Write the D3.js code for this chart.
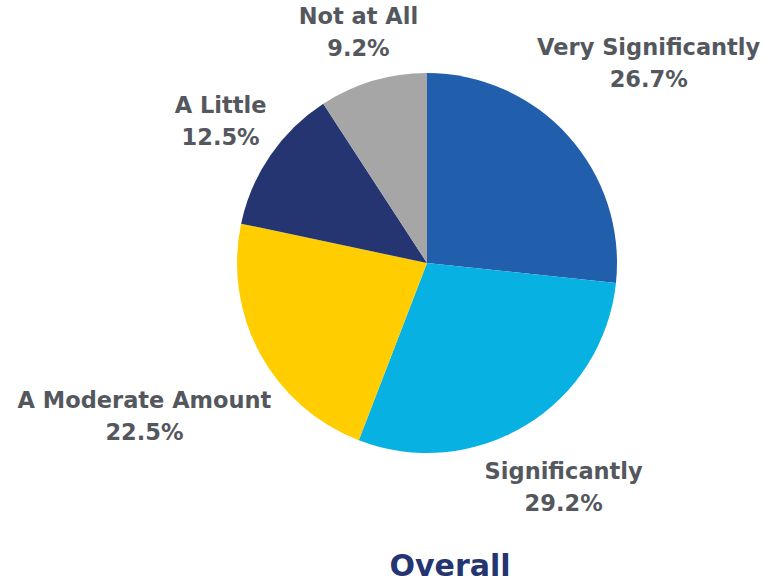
<!DOCTYPE html>
<html>
<head>
<meta charset="utf-8">
<script src="https://cdn.jsdelivr.net/npm/d3@7"></script>
<style>
  body { margin: 0; background: #fff; }
  svg { display: block; }
  text { font-family: "DejaVu Sans", "Open Sans", sans-serif; font-weight: 700; }
</style>
</head>
<body>
<svg id="chart"></svg>
<script>
var categories = ["Very Significantly", "Significantly", "A Moderate Amount", "A Little", "Not at All"]
var shares = [26.7, 29.2, 22.5, 12.5, 9.2]
var colors = ["#215fac", "#07b1e2", "#ffcd00", "#243571", "#a6a6a6"]
var title = "Overall"

var width = 765, height = 582
var cx = 427, cy = 263, radius = 190

var svg = d3.select("#chart")
    .attr("width", width)
    .attr("height", height)

var data = categories.map((c, i) => ({name: c, value: shares[i], color: colors[i]}))

var pie = d3.pie()
    .sort(null)
    .value(d => d.value)

var arc = d3.arc()
    .innerRadius(0)
    .outerRadius(radius)

var g = svg.append("g")
    .attr("transform", "translate(" + cx + "," + cy + ")")

var arcs = pie(data)

g.selectAll(".slice")
    .data(arcs)
    .enter()
    .append("path")
        .attr("class", "slice")
        .attr("d", arc)
        .attr("fill", d => d.data.color)

// labels sit outside the pie along each slice's mid angle
var labels = g.selectAll(".label")
    .data(arcs)
    .enter()
    .append("text")
        .attr("class", "label")
        .attr("text-anchor", "middle")
        .attr("fill", "#54585e")
        .style("font-size", "22.5px")

labels.append("tspan")
    .attr("x", 0)
    .attr("y", 0)
    .text(d => d.data.name)
labels.append("tspan")
    .attr("x", 0)
    .attr("y", 32)
    .text(d => d.data.value.toFixed(1) + "%")

labels.each(function(d) {
    var box = this.getBBox()
    var a = (d.startAngle + d.endAngle) / 2
    var s = Math.sin(a), c = -Math.cos(a)
    var reach = Math.abs(s) * box.width / 2 + Math.abs(c) * box.height / 2
    var r = radius + 6 + reach
    var x = s * r, y = c * r
    // shift so the box center lands on (x, y)
    var bx = box.x + box.width / 2, by = box.y + box.height / 2
    d3.select(this).attr("transform", "translate(" + (x - bx) + "," + (y - by) + ")")
})

svg.append("text")
    .attr("x", 450)
    .attr("y", 576)
    .attr("text-anchor", "middle")
    .attr("fill", "#243571")
    .style("font-size", "30px")
    .text(title)
</script>
</body>
</html>
